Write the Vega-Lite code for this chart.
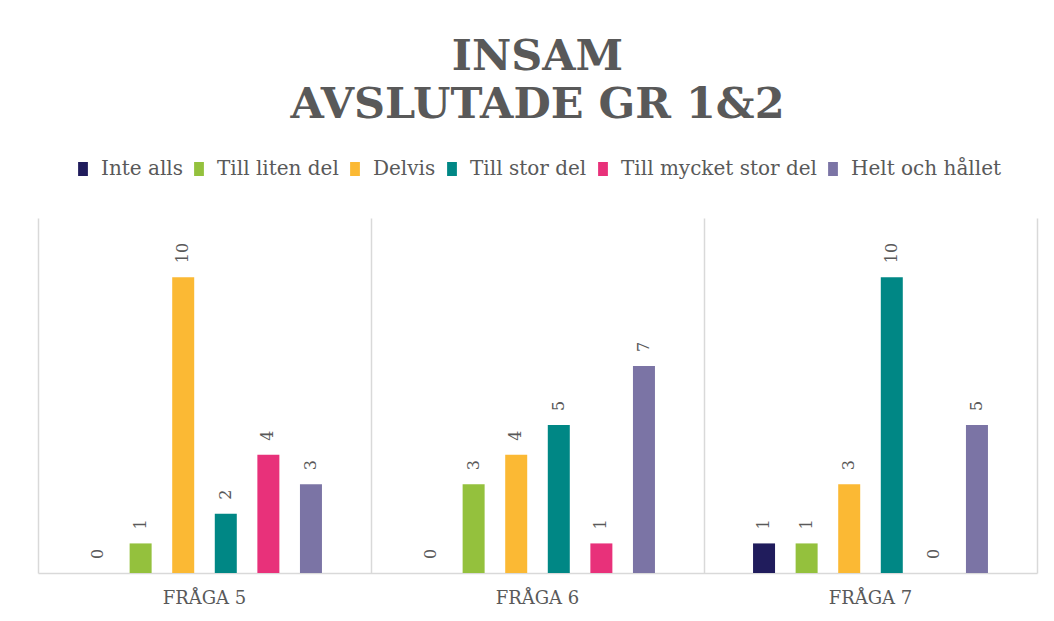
{
  "$schema": "https://vega.github.io/schema/vega-lite/v6.json",
  "width": 999,
  "height": 355,
  "autosize": {"type": "none"},
  "padding": {"left": 38, "top": 218, "right": 17, "bottom": 48},
  "background": "white",
  "config": {"view": {"stroke": null}},
  "title": {
    "text": ["INSAM", "AVSLUTADE GR 1&2"],
    "anchor": "middle",
    "font": "DejaVu Serif",
    "fontSize": 43,
    "fontWeight": "bold",
    "color": "#595959",
    "lineHeight": 48,
    "offset": 32
  },
  "data": {
    "values": [
      {"fraga": "FRÅGA 5", "svar": "Inte alls", "antal": 0},
      {"fraga": "FRÅGA 5", "svar": "Till liten del", "antal": 1},
      {"fraga": "FRÅGA 5", "svar": "Delvis", "antal": 10},
      {"fraga": "FRÅGA 5", "svar": "Till stor del", "antal": 2},
      {"fraga": "FRÅGA 5", "svar": "Till mycket stor del", "antal": 4},
      {"fraga": "FRÅGA 5", "svar": "Helt och hållet", "antal": 3},
      {"fraga": "FRÅGA 6", "svar": "Inte alls", "antal": 0},
      {"fraga": "FRÅGA 6", "svar": "Till liten del", "antal": 3},
      {"fraga": "FRÅGA 6", "svar": "Delvis", "antal": 4},
      {"fraga": "FRÅGA 6", "svar": "Till stor del", "antal": 5},
      {"fraga": "FRÅGA 6", "svar": "Till mycket stor del", "antal": 1},
      {"fraga": "FRÅGA 6", "svar": "Helt och hållet", "antal": 7},
      {"fraga": "FRÅGA 7", "svar": "Inte alls", "antal": 1},
      {"fraga": "FRÅGA 7", "svar": "Till liten del", "antal": 1},
      {"fraga": "FRÅGA 7", "svar": "Delvis", "antal": 3},
      {"fraga": "FRÅGA 7", "svar": "Till stor del", "antal": 10},
      {"fraga": "FRÅGA 7", "svar": "Till mycket stor del", "antal": 0},
      {"fraga": "FRÅGA 7", "svar": "Helt och hållet", "antal": 5}
    ]
  },
  "encoding": {
    "x": {
      "field": "fraga",
      "type": "nominal",
      "scale": {"paddingInner": 0, "paddingOuter": 0},
      "axis": {
        "title": null,
        "labelAngle": 0,
        "labelFont": "DejaVu Serif",
        "labelFontSize": 18,
        "labelColor": "#595959",
        "labelPadding": 16,
        "ticks": false,
        "domainColor": "#d9d9d9",
        "domainWidth": 1.5,
        "grid": true,
        "gridColor": "#d9d9d9",
        "gridWidth": 1.5,
        "bandPosition": 0
      }
    },
    "xOffset": {
      "field": "svar",
      "type": "nominal",
      "sort": ["Inte alls", "Till liten del", "Delvis", "Till stor del", "Till mycket stor del", "Helt och hållet"],
      "scale": {"paddingInner": 0, "paddingOuter": 0.91}
    },
    "y": {
      "field": "antal",
      "type": "quantitative",
      "scale": {"domain": [0, 12], "nice": false},
      "axis": {
        "orient": "right",
        "title": null,
        "labels": false,
        "ticks": false,
        "grid": false,
        "domain": true,
        "domainColor": "#d9d9d9",
        "domainWidth": 1.5
      }
    }
  },
  "layer": [
    {
      "mark": {"type": "bar", "width": 22},
      "encoding": {
        "color": {
          "field": "svar",
          "type": "nominal",
          "sort": ["Inte alls", "Till liten del", "Delvis", "Till stor del", "Till mycket stor del", "Helt och hållet"],
          "scale": {
            "domain": ["Inte alls", "Till liten del", "Delvis", "Till stor del", "Till mycket stor del", "Helt och hållet"],
            "range": ["#201c5c", "#94c13d", "#fbb934", "#008785", "#e8317a", "#7b74a5"]
          },
          "legend": {
            "title": null,
            "orient": "none",
            "direction": "horizontal",
            "columns": 6,
            "legendX": 35,
            "legendY": -59,
            "symbolType": "M-0.7,-1H0.7V1H-0.7Z",
            "symbolSize": 196,
            "symbolStrokeWidth": 0,
            "labelFont": "DejaVu Serif",
            "labelFontSize": 20,
            "labelColor": "#595959",
            "labelOffset": 8,
            "columnPadding": 6,
            "labelLimit": 400
          }
        }
      }
    },
    {
      "mark": {
        "type": "text",
        "angle": 270,
        "align": "left",
        "baseline": "middle",
        "dx": 14,
        "font": "DejaVu Serif",
        "fontSize": 16,
        "color": "#595959"
      },
      "encoding": {
        "text": {"field": "antal", "type": "quantitative"}
      }
    }
  ]
}
